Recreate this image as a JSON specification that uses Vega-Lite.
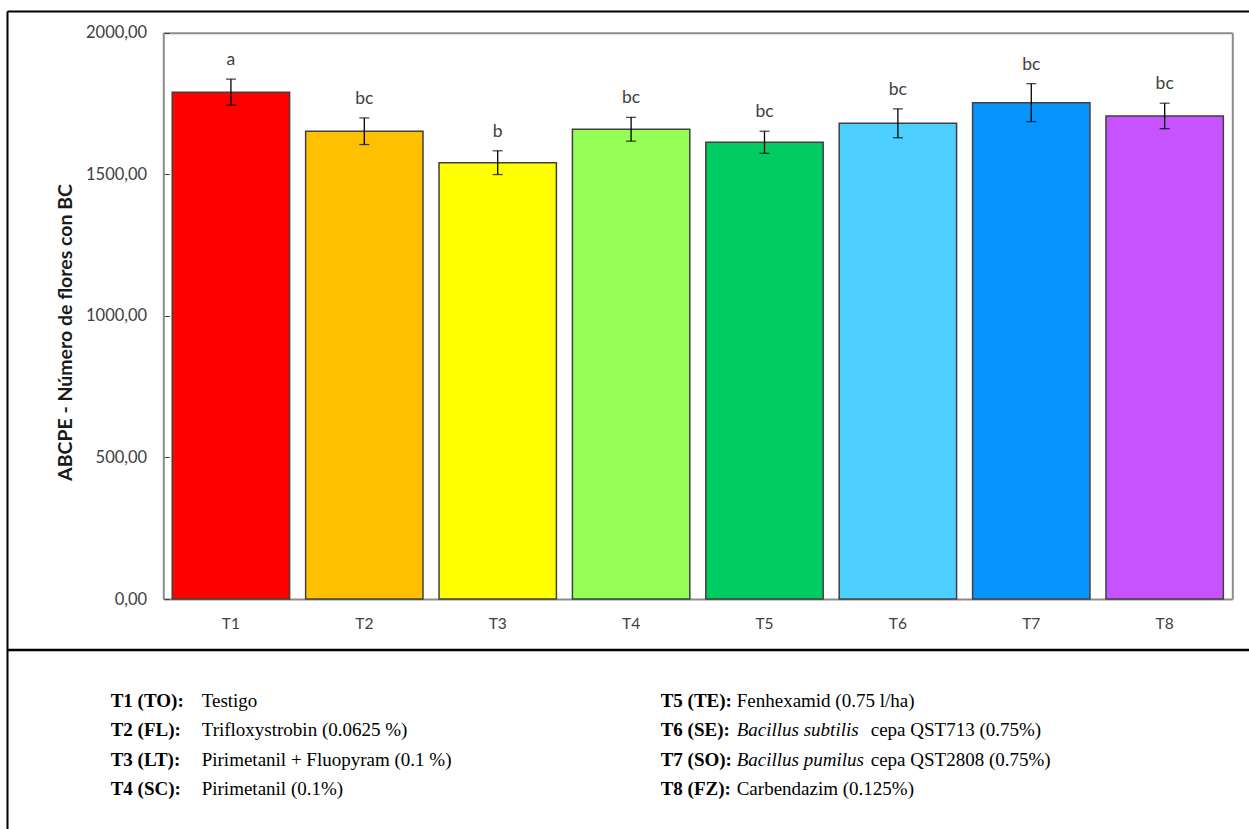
{
  "$schema": "https://vega.github.io/schema/vega-lite/v6.json",
  "autosize": {"type": "none"},
  "width": 1242,
  "height": 818,
  "padding": {"left": 7, "top": 11, "right": 0, "bottom": 0},
  "background": "white",
  "config": {"view": {"stroke": null}, "axis": {"grid": false}},
  "datasets": {
    "bars": [
      {"t": "T1", "mean": 1790, "err": 46, "group": "a"},
      {"t": "T2", "mean": 1652, "err": 47, "group": "bc"},
      {"t": "T3", "mean": 1541, "err": 42, "group": "b"},
      {"t": "T4", "mean": 1659, "err": 42, "group": "bc"},
      {"t": "T5", "mean": 1613, "err": 39, "group": "bc"},
      {"t": "T6", "mean": 1680, "err": 51, "group": "bc"},
      {"t": "T7", "mean": 1753, "err": 67, "group": "bc"},
      {"t": "T8", "mean": 1706, "err": 45, "group": "bc"}
    ],
    "legend": [
      {"id": "T1", "code": "TO", "species": "", "desc": "Testigo", "col": 1, "row": 1},
      {"id": "T2", "code": "FL", "species": "", "desc": "Trifloxystrobin (0.0625 %)", "col": 1, "row": 2},
      {"id": "T3", "code": "LT", "species": "", "desc": "Pirimetanil + Fluopyram (0.1 %)", "col": 1, "row": 3},
      {"id": "T4", "code": "SC", "species": "", "desc": "Pirimetanil (0.1%)", "col": 1, "row": 4},
      {"id": "T5", "code": "TE", "species": "", "desc": "Fenhexamid (0.75 l/ha)", "col": 2, "row": 1},
      {"id": "T6", "code": "SE", "species": "Bacillus subtilis", "desc": "cepa QST713 (0.75%)", "col": 2, "row": 2},
      {"id": "T7", "code": "SO", "species": "Bacillus pumilus", "desc": "cepa QST2808 (0.75%)", "col": 2, "row": 3},
      {"id": "T8", "code": "FZ", "species": "", "desc": "Carbendazim (0.125%)", "col": 2, "row": 4}
    ]
  },
  "resolve": {
    "scale": {"x": "independent", "y": "independent", "color": "independent"},
    "axis": {"x": "independent", "y": "independent"}
  },
  "layer": [
    {
      "data": {"name": "legend"},
      "mark": {"type": "point", "opacity": 0},
      "encoding": {
        "x": {"field": "col", "type": "quantitative",
          "scale": {"domain": [1, 2], "range": [0, 1242], "nice": false, "zero": false},
          "axis": {"orient": "top", "offset": 0, "labels": false, "ticks": false, "title": null, "domainColor": "#000000", "domainWidth": 2}},
        "y": {"field": "row", "type": "quantitative",
          "scale": {"domain": [1, 4], "range": [0, 818], "nice": false, "zero": false},
          "axis": {"orient": "left", "offset": 0, "labels": false, "ticks": false, "title": null, "domainColor": "#000000", "domainWidth": 2}}
      }
    },
    {
      "data": {"name": "legend"},
      "mark": {"type": "point", "opacity": 0},
      "encoding": {
        "x": {"field": "col", "type": "quantitative",
          "scale": {"domain": [1, 2], "range": [0, 1242], "nice": false, "zero": false},
          "axis": {"orient": "bottom", "offset": -179.5, "labels": false, "ticks": false, "title": null, "domainColor": "#000000", "domainWidth": 2.5}}
      }
    },
    {
      "data": {"name": "bars"},
      "mark": {"type": "bar", "stroke": "#404040", "strokeWidth": 1.5},
      "encoding": {
        "x": {"field": "t", "type": "nominal", "sort": null,
          "scale": {"type": "band", "domain": ["T1","T2","T3","T4","T5","T6","T7","T8"], "range": [156.3, 1225.3], "paddingInner": 0.12, "paddingOuter": 0.067},
          "axis": {"orient": "bottom", "offset": -230, "ticks": false, "labelAngle": 0, "labelPadding": 17, "labelFont": "Lato", "labelFontSize": 15.5, "labelColor": "#404040", "domainColor": "#8c8c8c", "domainWidth": 2, "title": null}},
        "y": {"field": "mean", "type": "quantitative",
          "scale": {"domain": [0, 2000], "range": [588, 21.7], "nice": false, "zero": true},
          "axis": {"orient": "left", "offset": -156.3, "values": [0, 500, 1000, 1500, 2000],
            "labelExpr": "replace(format(datum.value, '.2f'), '.', ',')",
            "tickSize": -6, "tickColor": "#404040", "tickWidth": 1, "labelPadding": 22.6,
            "labelFont": "Lato", "labelFontSize": 16.5, "labelColor": "#404040",
            "domainColor": "#8c8c8c", "domainWidth": 2,
            "title": "ABCPE - Número de flores con BC", "titleFont": "Lato", "titleFontSize": 19.5, "titleFontWeight": "bold", "titleColor": "#1a1a1a",
            "titleX": -98.3, "titleY": 321, "titleBaseline": "middle", "titleAlign": "center"}},
        "color": {"field": "t", "type": "nominal",
          "scale": {"domain": ["T1","T2","T3","T4","T5","T6","T7","T8"], "range": ["#FF0000","#FFC000","#FFFF00","#95FF55","#00CC62","#4DD0FF","#0894FF","#C653FF"]},
          "legend": null}
      }
    },
    {
      "data": {"name": "bars"},
      "transform": [
        {"calculate": "datum.mean - datum.err", "as": "lo"},
        {"calculate": "datum.mean + datum.err", "as": "hi"}
      ],
      "mark": {"type": "rule", "color": "#000000", "strokeWidth": 1.3},
      "encoding": {
        "x": {"field": "t", "type": "nominal", "sort": null,
          "scale": {"type": "band", "domain": ["T1","T2","T3","T4","T5","T6","T7","T8"], "range": [156.3, 1225.3], "paddingInner": 0.12, "paddingOuter": 0.067},
          "axis": {"orient": "top", "offset": -21.7, "labels": false, "ticks": false, "title": null, "domainColor": "#8c8c8c", "domainWidth": 2}},
        "y": {"field": "lo", "type": "quantitative",
          "scale": {"domain": [0, 2000], "range": [588, 21.7], "nice": false, "zero": true},
          "axis": {"orient": "right", "offset": -16.7, "labels": false, "ticks": false, "title": null, "domainColor": "#8c8c8c", "domainWidth": 2}},
        "y2": {"field": "hi"}
      }
    },
    {
      "data": {"name": "bars"},
      "transform": [{"calculate": "datum.mean - datum.err", "as": "lo"}],
      "mark": {"type": "tick", "orient": "horizontal", "size": 10, "thickness": 1.3, "color": "#000000"},
      "encoding": {
        "x": {"field": "t", "type": "nominal", "sort": null,
          "scale": {"type": "band", "domain": ["T1","T2","T3","T4","T5","T6","T7","T8"], "range": [156.3, 1225.3], "paddingInner": 0.12, "paddingOuter": 0.067},
          "axis": null},
        "y": {"field": "lo", "type": "quantitative",
          "scale": {"domain": [0, 2000], "range": [588, 21.7], "nice": false, "zero": true},
          "axis": null}
      }
    },
    {
      "data": {"name": "bars"},
      "transform": [{"calculate": "datum.mean + datum.err", "as": "hi"}],
      "mark": {"type": "tick", "orient": "horizontal", "size": 10, "thickness": 1.3, "color": "#000000"},
      "encoding": {
        "x": {"field": "t", "type": "nominal", "sort": null,
          "scale": {"type": "band", "domain": ["T1","T2","T3","T4","T5","T6","T7","T8"], "range": [156.3, 1225.3], "paddingInner": 0.12, "paddingOuter": 0.067},
          "axis": null},
        "y": {"field": "hi", "type": "quantitative",
          "scale": {"domain": [0, 2000], "range": [588, 21.7], "nice": false, "zero": true},
          "axis": null}
      }
    },
    {
      "data": {"name": "bars"},
      "transform": [{"calculate": "datum.mean + datum.err", "as": "hi"}],
      "mark": {"type": "text", "dy": -19, "baseline": "middle", "align": "center", "font": "Lato", "fontSize": 17.5, "color": "#404040"},
      "encoding": {
        "x": {"field": "t", "type": "nominal", "sort": null,
          "scale": {"type": "band", "domain": ["T1","T2","T3","T4","T5","T6","T7","T8"], "range": [156.3, 1225.3], "paddingInner": 0.12, "paddingOuter": 0.067},
          "axis": null},
        "y": {"field": "hi", "type": "quantitative",
          "scale": {"domain": [0, 2000], "range": [588, 21.7], "nice": false, "zero": true},
          "axis": null},
        "text": {"field": "group"}
      }
    },
    {
      "data": {"name": "legend"},
      "transform": [{"calculate": "datum.id + ' (' + datum.code + '):'", "as": "label"}],
      "mark": {"type": "text", "align": "left", "baseline": "middle", "font": "Liberation Serif", "fontSize": 19, "fontWeight": "bold", "color": "#000000"},
      "encoding": {
        "x": {"field": "col", "type": "quantitative", "scale": {"domain": [1, 2], "range": [103.7, 653.7], "nice": false, "zero": false}, "axis": null},
        "y": {"field": "row", "type": "quantitative", "scale": {"domain": [1, 4], "range": [690, 778], "nice": false, "zero": false}, "axis": null},
        "text": {"field": "label"}
      }
    },
    {
      "data": {"name": "legend"},
      "transform": [{"filter": "datum.species == ''"}],
      "mark": {"type": "text", "align": "left", "baseline": "middle", "font": "Liberation Serif", "fontSize": 19, "color": "#000000"},
      "encoding": {
        "x": {"field": "col", "type": "quantitative", "scale": {"domain": [1, 2], "range": [194.7, 729.7], "nice": false, "zero": false}, "axis": null},
        "y": {"field": "row", "type": "quantitative", "scale": {"domain": [1, 4], "range": [690, 778], "nice": false, "zero": false}, "axis": null},
        "text": {"field": "desc"}
      }
    },
    {
      "data": {"name": "legend"},
      "transform": [{"filter": "datum.species != ''"}],
      "mark": {"type": "text", "align": "left", "baseline": "middle", "font": "Liberation Serif", "fontSize": 19, "fontStyle": "italic", "color": "#000000"},
      "encoding": {
        "x": {"field": "col", "type": "quantitative", "scale": {"domain": [1, 2], "range": [194.7, 729.7], "nice": false, "zero": false}, "axis": null},
        "y": {"field": "row", "type": "quantitative", "scale": {"domain": [1, 4], "range": [690, 778], "nice": false, "zero": false}, "axis": null},
        "text": {"field": "species"}
      }
    },
    {
      "data": {"name": "legend"},
      "transform": [{"filter": "datum.species != ''"}],
      "mark": {"type": "text", "align": "left", "baseline": "middle", "dx": 134, "font": "Liberation Serif", "fontSize": 19, "color": "#000000"},
      "encoding": {
        "x": {"field": "col", "type": "quantitative", "scale": {"domain": [1, 2], "range": [194.7, 729.7], "nice": false, "zero": false}, "axis": null},
        "y": {"field": "row", "type": "quantitative", "scale": {"domain": [1, 4], "range": [690, 778], "nice": false, "zero": false}, "axis": null},
        "text": {"field": "desc"}
      }
    }
  ]
}
